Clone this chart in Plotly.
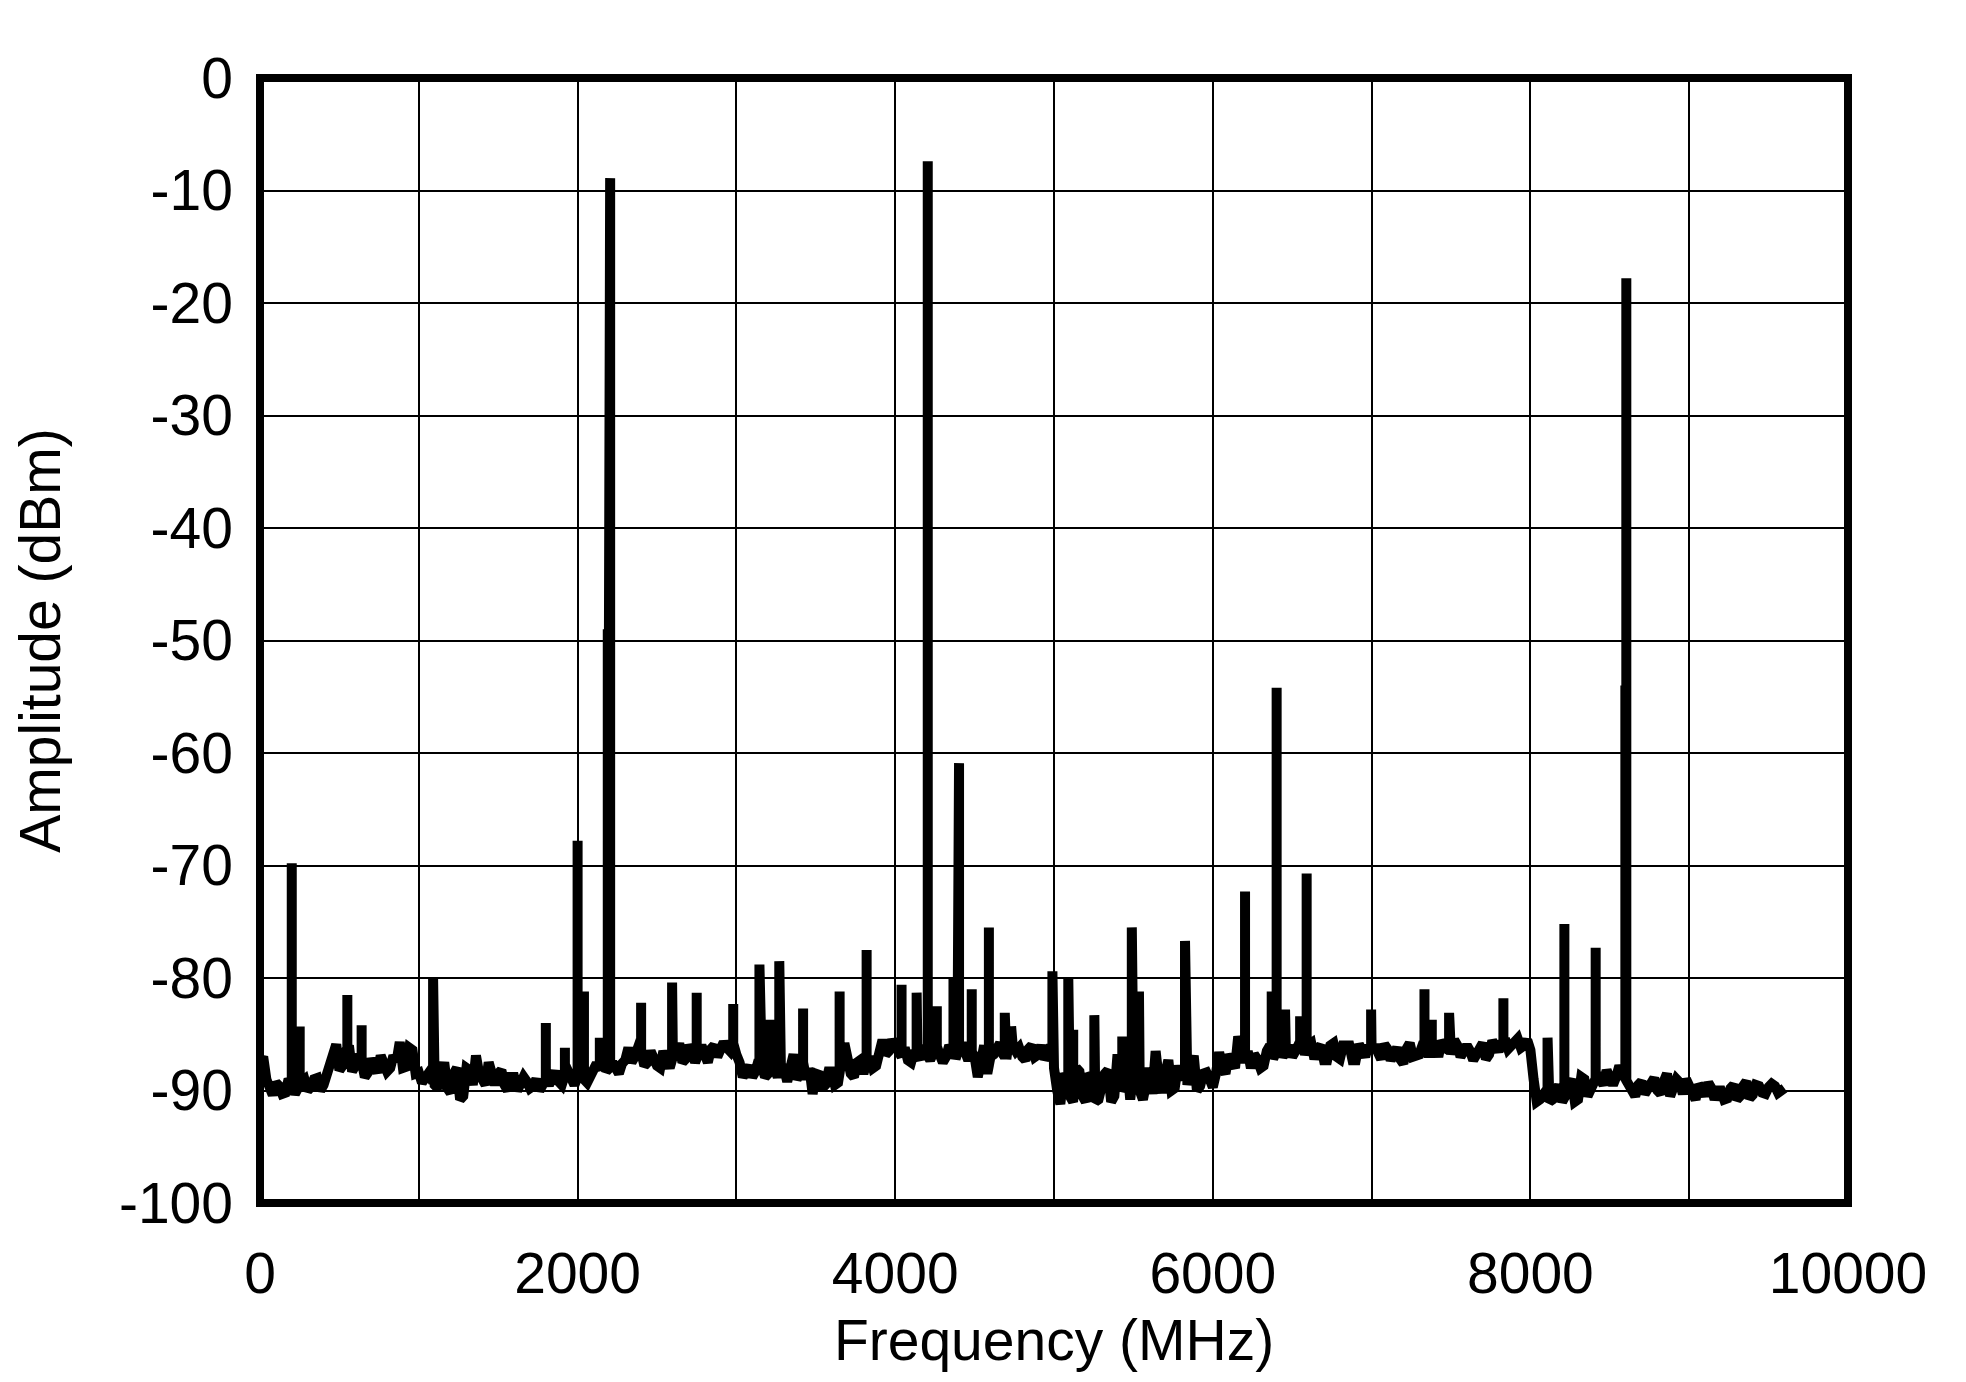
import numpy as np
import plotly.graph_objects as go

# ---------------- data ----------------
# noise floor sampled every 40 MHz from 0 to 9600 MHz (dBm)
floor_step_mhz = 40
floor_0 = [-87.5, -89.0, -90.4, -89.6, -90.2, -89.4, -89.8, -89.0, -89.7, -88.9,
           -89.5, -87.8, -85.9, -87.8, -86.0, -87.8, -87.4, -88.4, -87.9, -86.9,
           -88.3, -86.9, -85.7, -87.9, -86.4]
floor_1000 = [-88.4, -88.9, -89.0, -89.8, -87.5, -90.2, -88.0, -90.5, -88.2, -86.9,
              -89.0, -87.5, -89.5, -88.2, -90.0, -88.8, -89.5, -89.2, -89.6, -90.0,
              -89.0, -88.5, -89.2, -88.6, -89.0]
floor_2000 = [-88.8, -89.0, -88.6, -87.6, -86.0, -88.0, -88.2, -87.6, -86.2, -87.0,
              -86.5, -87.5, -87.2, -88.0, -87.3, -87.0, -85.8, -87.2, -86.5, -86.8,
              -87.0, -86.3, -87.0, -85.7, -86.5]
floor_3000 = [-86.8, -88.8, -87.8, -88.3, -87.8, -88.5, -88.0, -87.8, -89.2, -86.8,
              -88.5, -89.0, -90.3, -88.6, -89.5, -88.3, -89.3, -85.8, -88.5, -87.5,
              -88.5, -87.0, -87.8, -85.5, -86.5]
floor_4000 = [-86.0, -87.0, -87.3, -86.5, -87.2, -86.8, -86.5, -86.8, -87.0, -86.5,
              -86.3, -86.8, -86.5, -88.8, -86.0, -87.0, -86.2, -86.8, -85.0, -86.5,
              -87.0, -86.3, -87.0, -86.0, -86.8]
floor_5000 = [-88.0, -91.2, -89.0, -91.0, -88.3, -91.0, -88.8, -90.8, -88.5, -91.0,
              -86.8, -89.5, -90.8, -88.5, -90.8, -88.0, -86.5, -90.2, -87.3, -89.8,
              -89.0, -89.5, -86.9, -89.6, -88.4]
floor_6000 = [-89.7, -86.6, -88.5, -87.6, -85.2, -87.5, -88.0, -87.2, -87.8, -86.0,
              -86.5, -87.0, -86.0, -86.5, -85.5, -86.0, -87.2, -86.0, -87.3, -85.8,
              -87.2, -86.0, -87.3, -85.9, -87.0]
floor_7000 = [-86.5, -87.0, -85.9, -87.3, -86.2, -87.6, -85.8, -86.8, -86.0, -87.0,
              -86.0, -85.6, -86.3, -85.5, -87.0, -86.0, -87.3, -86.4, -87.2, -85.6,
              -86.5, -85.4, -86.0, -85.4, -86.0]
floor_8000 = [-86.4, -91.0, -90.3, -91.0, -90.2, -91.0, -89.5, -91.0, -88.8, -90.5,
              -89.5, -89.0, -88.2, -89.5, -87.8, -89.0, -90.0, -89.5, -90.3, -89.3,
              -90.0, -89.2, -90.5, -89.0, -90.3]
floor_9000 = [-89.5, -90.8, -89.8, -89.3, -90.8, -90.0, -90.7, -89.5, -90.5, -89.2,
              -90.4, -89.6, -90.3, -89.4, -90.2, -89.8]

# noise floor in between, at 20, 60, 100, ... MHz (dBm)
mid_0 = [-87.0, -90.0, -89.3, -90.3, -89.0, -90.3, -89.2, -90.0, -89.0, -90.0,
         -88.5, -87.3, -88.2, -86.5, -88.3, -86.8, -88.8, -87.2, -88.4, -87.5,
         -88.0, -87.4, -88.0, -86.2, -88.5]
mid_1000 = [-89.3, -88.5, -89.5, -88.5, -89.8, -88.5, -90.8, -88.0, -89.5, -88.5,
            -89.5, -88.5, -88.5, -89.5, -88.8, -90.0, -88.8, -89.8, -89.0, -89.2,
            -89.5, -88.3, -89.5, -88.3, -89.5]
mid_2000 = [-88.5, -89.3, -88.0, -88.2, -88.3, -87.5, -88.5, -87.3, -87.5, -86.2,
            -87.8, -86.5, -87.8, -86.5, -88.0, -86.8, -87.5, -86.0, -87.5, -86.0,
            -87.5, -86.0, -86.3, -86.2, -85.8]
mid_3000 = [-87.5, -88.0, -88.8, -87.3, -88.8, -87.5, -88.8, -88.0, -88.0, -89.0,
            -87.5, -88.0, -88.5, -89.8, -88.3, -89.5, -87.5, -88.0, -88.8, -87.3,
            -87.5, -88.0, -86.5, -86.8, -85.5]
mid_4000 = [-86.5, -86.2, -87.5, -86.8, -86.0, -87.3, -86.0, -87.5, -86.0, -87.2,
            -85.8, -87.3, -87.0, -87.5, -88.5, -86.8, -85.8, -87.2, -86.0, -86.2,
            -87.3, -86.0, -86.8, -87.2, -86.0]
mid_5000 = [-90.0, -88.5, -90.5, -88.0, -90.5, -88.5, -91.0, -89.0, -88.2, -90.5,
            -90.0, -87.5, -88.3, -90.0, -88.5, -90.3, -89.0, -88.5, -90.0, -87.8,
            -88.5, -88.0, -90.0, -88.5, -89.0]
mid_6000 = [-88.5, -88.0, -86.8, -88.0, -87.0, -86.5, -86.8, -88.0, -86.5, -87.2,
            -85.8, -86.5, -87.0, -85.8, -86.8, -85.8, -86.3, -87.3, -86.0, -87.0,
            -86.0, -86.0, -87.3, -86.5, -86.0]
mid_7000 = [-86.0, -87.2, -86.3, -86.5, -87.2, -86.3, -87.0, -86.8, -86.0, -85.8,
            -87.0, -86.0, -86.8, -86.0, -86.3, -86.5, -86.8, -85.8, -86.8, -86.3,
            -85.8, -86.3, -85.6, -86.2, -85.5]
mid_8000 = [-89.0, -90.8, -90.0, -90.8, -89.5, -90.5, -89.0, -90.8, -89.0, -89.8,
            -88.5, -89.5, -89.0, -88.8, -88.5, -89.5, -90.5, -89.2, -89.8, -88.9,
            -90.3, -88.5, -89.7, -89.3, -89.0]
mid_9000 = [-90.0, -89.5, -90.5, -89.8, -90.0, -90.8, -89.8, -90.8, -89.6, -90.7,
            -89.5, -90.2, -89.7, -89.6, -90.0]

# spurs / tones: frequency (MHz) and peak amplitude (dBm)
spur_freq = [200, 250, 550, 640, 1090, 1800, 1920, 2000, 2040, 2140, 2190, 2205,
             2400, 2595, 2750, 2980, 3145, 3213, 3270, 3420, 3650, 3820, 4040,
             4135, 4195, 4205, 4262, 4367, 4392, 4402, 4482, 4590, 4690, 4730,
             4990, 5090, 5121, 5254, 5430, 5490, 5535, 5825, 6203, 6371, 6402,
             6455, 6550, 6591, 6997, 7333, 7379, 7488, 7830, 8108, 8214, 8411,
             8598, 8604]
spur_amp = [-69.8, -84.3, -81.5, -84.2, -80.0, -84.0, -86.2, -67.8, -81.2, -85.3,
            -49.0, -8.9, -82.2, -80.4, -81.3, -82.3, -78.8, -83.7, -78.5, -82.7,
            -81.2, -77.5, -80.6, -81.3, -48.0, -7.4, -82.5, -80.0, -74.0, -60.9,
            -81.0, -75.5, -83.1, -84.3, -79.4, -80.0, -84.6, -83.3, -85.2, -75.5,
            -81.2, -76.7, -72.3, -81.2, -54.2, -82.8, -83.4, -70.7, -82.8, -81.0,
            -83.7, -83.1, -81.8, -85.3, -75.2, -77.3, -54.0, -17.8]

x_ticks = [0, 2000, 4000, 6000, 8000, 10000]
y_ticks = [0, -10, -20, -30, -40, -50, -60, -70, -80, -90, -100]

# ---------------- build traces ----------------
floor_vals = (floor_0 + floor_1000 + floor_2000 + floor_3000 + floor_4000 +
              floor_5000 + floor_6000 + floor_7000 + floor_8000 + floor_9000)
mid_vals = (mid_0 + mid_1000 + mid_2000 + mid_3000 + mid_4000 +
            mid_5000 + mid_6000 + mid_7000 + mid_8000 + mid_9000)
pts = []
for i, v in enumerate(floor_vals):
    pts.append((i * floor_step_mhz, v))
    if i < len(mid_vals):
        pts.append((i * floor_step_mhz + floor_step_mhz / 2, mid_vals[i]))
pf = [p[0] for p in pts]
pv = [p[1] for p in pts]

# merge spurs into the spectrum trace as vertical excursions
xs, ys = [], []
spurs = sorted(zip(spur_freq, spur_amp))
si = 0
for f, v in pts:
    while si < len(spurs) and spurs[si][0] <= f:
        sf, sa = spurs[si]
        base = float(np.interp(sf, pf, pv))
        xs += [sf, sf, sf]
        ys += [base, sa, base]
        si += 1
    xs.append(f)
    ys.append(v)

FONT = "Liberation Sans, Arial, sans-serif"

fig = go.Figure()
fig.add_trace(go.Scatter(x=xs, y=ys, mode="lines",
                         line=dict(color="black", width=10),
                         showlegend=False, hoverinfo="skip"))

grid_x = list(range(0, 10001, 1000))
fig.update_xaxes(range=[0, 10000], tickvals=grid_x,
                 ticktext=[str(v) if v in x_ticks else "" for v in grid_x],
                 showgrid=True, gridcolor="black", gridwidth=1.6,
                 zeroline=False, showline=False, ticks="", automargin=False,
                 ticklabelstandoff=32,
                 tickfont=dict(family=FONT, size=57, color="black"),
                 title=dict(text="Frequency (MHz)", standoff=16,
                            font=dict(family=FONT, size=57, color="black")))
fig.update_yaxes(range=[-100, 0], tickvals=y_ticks,
                 ticktext=[str(v) for v in y_ticks],
                 showgrid=True, gridcolor="black", gridwidth=1.6,
                 zeroline=False, showline=False, ticks="", automargin=False,
                 ticklabelstandoff=26,
                 tickfont=dict(family=FONT, size=57, color="black"),
                 title=dict(text="Amplitude (dBm)", standoff=40,
                            font=dict(family=FONT, size=57, color="black")))

fig.add_shape(type="rect", xref="paper", yref="paper", x0=0, x1=1, y0=0, y1=1,
              line=dict(color="black", width=8), layer="above")

fig.update_layout(width=1950, height=1366,
                  margin=dict(l=252, r=110, t=70, b=171),
                  paper_bgcolor="white", plot_bgcolor="white",
                  font=dict(family=FONT, color="black"))

fig.write_html("out.html")
